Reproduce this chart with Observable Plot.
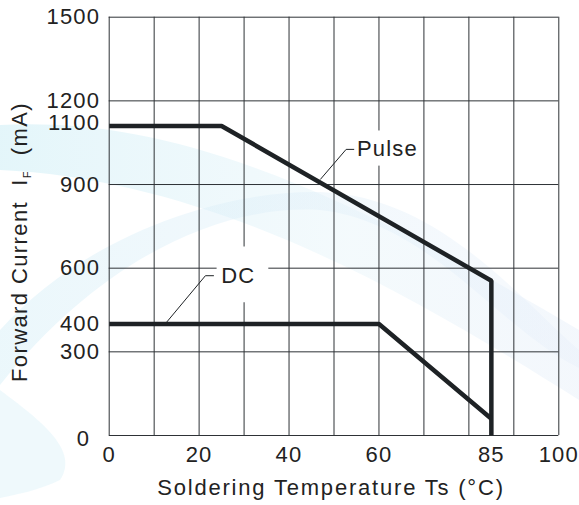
<!DOCTYPE html>
<html>
<head>
<meta charset="utf-8">
<script src="https://cdn.jsdelivr.net/npm/d3@7"></script>
<script src="https://cdn.jsdelivr.net/npm/@observablehq/plot@0.6"></script>
<style>
  html, body { margin: 0; padding: 0; background: white; }
  #wrap { position: relative; width: 579px; height: 505px; overflow: hidden; }
  #bg { position: absolute; left: 0; top: 0; }
  #chart { position: absolute; left: 0; top: 0; }
</style>
</head>
<body>
<div id="wrap">
<svg id="bg" width="579" height="505" viewBox="0 0 579 505">
  <defs>
    <linearGradient id="g1" x1="0" y1="0" x2="1" y2="0">
      <stop offset="0" stop-color="#cdeef6" stop-opacity="0.55"/>
      <stop offset="0.6" stop-color="#dff1f8" stop-opacity="0.35"/>
      <stop offset="1" stop-color="#d9e6f6" stop-opacity="0.3"/>
    </linearGradient>
    <linearGradient id="g2" x1="0" y1="0" x2="1" y2="0">
      <stop offset="0" stop-color="#d3eef7" stop-opacity="0.45"/>
      <stop offset="1" stop-color="#e3ecf9" stop-opacity="0.3"/>
    </linearGradient>
  </defs>
  <path d="M0,125 C150,118 300,165 579,330 L579,400 C420,300 220,180 0,170 Z" fill="url(#g1)"/>
  <path d="M0,330 C90,230 230,190 320,192 C440,196 520,300 579,350 L579,368 C500,330 430,222 320,210 C220,204 100,260 0,385 Z" fill="url(#g2)"/>
  <path d="M0,390 C40,420 80,450 60,480 C40,490 15,495 0,498 Z" fill="#dcf2f8" fill-opacity="0.45"/>
</svg>
<div id="chart"></div>
</div>
<script>
// Grid and tick values
const xGrid = [0, 10, 20, 30, 40, 50, 60, 70, 80, 90, 100];
const yGrid = [0, 300, 600, 900, 1200, 1500];
const xTicks = [0, 20, 40, 60, 85, 100];
const yTicks = [300, 400, 600, 900, 1200, 1500];

// Series: Pulse
const pulseT = [0, 25, 85, 85];
const pulseI = [1110, 1110, 555, 0];
// Series: DC
const dcT = [0, 60, 85];
const dcI = [400, 400, 60];

// Annotation labels
const labelNames = ["Pulse", "DC"];
const labelT = [55.1, 24.9];
const labelI = [1026, 573];
// Leader lines (per label)
const leaderName = ["Pulse", "Pulse", "Pulse", "DC", "DC", "DC"];
const leaderT = [47, 52.7, 54.4, 12.7, 21.4, 23.2];
const leaderI = [919, 1026, 1026, 405, 573, 573];
// Label background boxes
const boxT1 = [54.3, 24];
const boxT2 = [69, 35.5];
const boxI1 = [966, 476];
const boxI2 = [1092, 676];

const pulse = pulseT.map((t, i) => ({t, v: pulseI[i]}));
const dc = dcT.map((t, i) => ({t, v: dcI[i]}));
const labels = labelNames.map((name, i) => ({name, t: labelT[i], v: labelI[i]}));
const leaders = leaderName.map((name, i) => ({name, t: leaderT[i], v: leaderI[i]}));
const boxes = boxT1.map((t1, i) => ({t1, t2: boxT2[i], v1: boxI1[i], v2: boxI2[i]}));

const ink = "#1e2225";
const gridC = "#2e3236";

const plot = Plot.plot({
  width: 579,
  height: 505,
  marginLeft: 108.7,
  marginRight: 20.7,
  marginTop: 16.7,
  marginBottom: 70,
  style: {
    fontFamily: "'Liberation Sans', Arial, sans-serif",
    fontSize: "22px",
    letterSpacing: "1.2px",
    background: "transparent",
    color: "#222"
  },
  x: {domain: [0, 100], ticks: xTicks, tickFormat: d => String(d), tickSize: 0, tickPadding: 11, label: null},
  y: {domain: [0, 1500], ticks: yTicks, tickFormat: d => String(d), tickSize: 0, tickPadding: 9, label: null},
  marks: [
    Plot.ruleX(xGrid, {stroke: gridC, strokeWidth: 1}),
    Plot.ruleY(yGrid, {stroke: gridC, strokeWidth: 1}),
    Plot.rect(boxes, {x1: "t1", x2: "t2", y1: "v1", y2: "v2", fill: "white"}),
    Plot.line(pulse, {x: "t", y: "v", stroke: ink, strokeWidth: 4.5, strokeLinejoin: "miter", strokeLinecap: "butt"}),
    Plot.line(dc, {x: "t", y: "v", stroke: ink, strokeWidth: 4.5, strokeLinejoin: "miter", strokeLinecap: "butt"}),
    Plot.line(leaders, {x: "t", y: "v", z: "name", stroke: ink, strokeWidth: 1}),
    Plot.text(labels, {x: "t", y: "v", text: "name", textAnchor: "start", fontSize: 22, fill: "#222"}),
    Plot.text([1100], {x: () => 0, y: d => d, text: d => String(d), textAnchor: "end", dx: -9, dy: -6, fontSize: 22, fill: "#222"}),
    Plot.text([0], {x: () => 0, y: d => d, text: d => String(d), textAnchor: "end", dx: -19, dy: 3, fontSize: 22, fill: "#222"})
  ]
});

document.getElementById("chart").appendChild(plot);

const svg = d3.select(plot);
// x axis title
svg.append("text")
  .attr("x", 331)
  .attr("y", 495)
  .attr("text-anchor", "middle")
  .attr("font-size", 22)
  .attr("fill", "#222")
  .style("letter-spacing", "1.8px")
  .text("Soldering Temperature Ts (°C)");
// y axis title with subscript
const yl = svg.append("text")
  .attr("transform", "translate(27,242) rotate(-90)")
  .attr("text-anchor", "middle")
  .attr("font-size", 22)
  .attr("fill", "#222")
  .style("letter-spacing", "1.4px")
  .style("white-space", "pre");
yl.append("tspan").text("Forward Current  I");
yl.append("tspan").attr("font-size", 11).attr("dy", 4).text("F");
yl.append("tspan").attr("dy", -4).text("  (mA)");
</script>
</body>
</html>
